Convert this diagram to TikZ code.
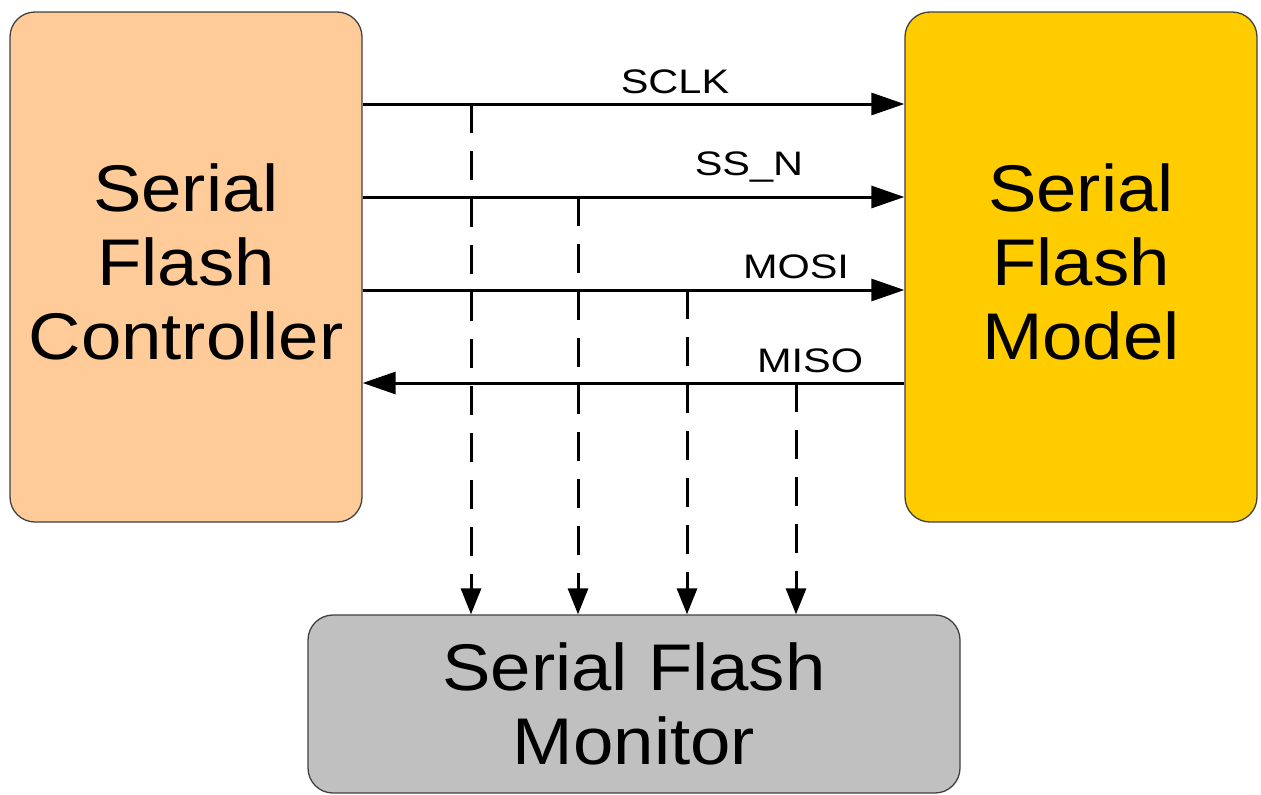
\documentclass[tikz,border=0pt]{standalone}
\usepackage{fontspec}
\setmainfont{Liberation Sans}[FakeStretch=1.1]
\newfontfamily\labelfont{Liberation Sans}[FakeStretch=1.22]
\usetikzlibrary{arrows.meta}
\definecolor{peach}{HTML}{FFCC99}
\definecolor{gold}{HTML}{FFCC00}
\definecolor{monogray}{HTML}{C0C0C0}
\definecolor{edge}{HTML}{404040}
\begin{document}
\begin{tikzpicture}[x=1pt,y=-1pt,
  blockbox/.style={draw=edge,line width=1.3pt,rounded corners=25pt,inner sep=0pt,
    align=center,font=\fontsize{66}{74}\selectfont},
  sig/.style={line width=3pt,-{Triangle[length=33pt,width=22pt]}},
  tap/.style={line width=3pt,dash pattern=on 29pt off 18pt,-{Triangle[length=26pt,width=20pt]}},
  siglabel/.style={anchor=base,inner sep=0pt,font=\labelfont\fontsize{34}{34}\selectfont}]
\useasboundingbox (0,0) rectangle (1261,795);
\node[blockbox,fill=peach,minimum width=352pt,minimum height=510pt] (ctrl) at (186,267) {};
\node[blockbox,fill=gold,minimum width=352pt,minimum height=510pt] (model) at (1081,267) {};
\node[blockbox,fill=monogray,minimum width=652pt,minimum height=178pt] (mon) at (634,704) {Serial Flash\\Monitor};
\node[align=center,font=\fontsize{66}{74}\selectfont,inner sep=0pt] (ctrltext) at (186,262) {Serial\\Flash\\Controller};
\node[align=center,font=\fontsize{66}{74}\selectfont,inner sep=0pt] (modeltext) at (1081,262) {Serial\\Flash\\Model};
% signal lines
\coordinate (c1) at (ctrl.east |- 0,104);
\coordinate (m1) at (model.west |- 0,104);
\coordinate (c2) at (ctrl.east |- 0,197);
\coordinate (m2) at (model.west |- 0,197);
\coordinate (c3) at (ctrl.east |- 0,290);
\coordinate (m3) at (model.west |- 0,290);
\coordinate (c4) at (ctrl.east |- 0,383);
\coordinate (m4) at (model.west |- 0,383);
\draw[sig] (c1) -- (m1);
\draw[sig] (c2) -- (m2);
\draw[sig] (c3) -- (m3);
\draw[sig] (m4) -- (c4);
% taps
\coordinate (t1) at (471,104);
\coordinate (t2) at (578,197);
\coordinate (t3) at (687,290);
\coordinate (t4) at (796,383);
\draw[tap] (t1) -- (t1 |- mon.north);
\draw[tap] (t2) -- (t2 |- mon.north);
\draw[tap] (t3) -- (t3 |- mon.north);
\draw[tap] (t4) -- (t4 |- mon.north);
% labels
\node[siglabel] (lsclk) at (675,93) {SCLK};
\node[siglabel] (lssn) at (749,175) {SS\_N};
\node[siglabel] (lmosi) at (796,278) {MOSI};
\node[siglabel] (lmiso) at (810,372) {MISO};
\end{tikzpicture}
\end{document}
